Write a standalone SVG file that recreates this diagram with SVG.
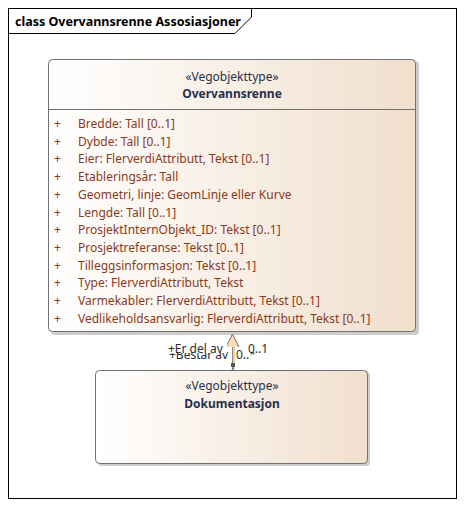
<svg xmlns="http://www.w3.org/2000/svg" width="465" height="508" viewBox="0 0 465 508">
<defs>
<linearGradient id="g" x1="0" y1="0" x2="1" y2="0">
<stop offset="0" stop-color="#FFFFFF"/>
<stop offset="1" stop-color="#F1DFCD"/>
</linearGradient>
<style>
text{font-family:"Noto Sans","Open Sans","Liberation Sans",sans-serif;font-size:12px}
.st{fill:#27304a;text-anchor:middle}
.nm{fill:#27304a;text-anchor:middle;font-weight:bold}
.at{fill:#8a3a1c}
.box{fill:url(#g);stroke:#707070;stroke-width:1}
.sh{fill:#9a9a9a;opacity:0.5}
.lbl{fill:#2b2b2b}
</style>
</defs>
<rect width="465" height="508" fill="#FFFFFF"/>
<g id="frame">
<rect x="8.5" y="8.5" width="448" height="490" fill="none" stroke="#000" stroke-width="1"/>
<path d="M8.5 33.5 H235 L251.5 17 V8.5" fill="none" stroke="#000" stroke-width="1"/>
<text x="15" y="26" style="font-size:12.5px;font-weight:bold" fill="#000">class Overvannsrenne Assosiasjoner</text>
</g>
<g id="connectors">
<line x1="232.5" y1="347" x2="232.5" y2="365" stroke="#8a8a8a" stroke-width="1"/>
<line x1="234" y1="347" x2="234" y2="363" stroke="#F3CBA0" stroke-width="2"/>
<path d="M232.5 334 L226 347 L239 347 Z" fill="#FBDBB8" stroke="none"/>
<path d="M226 347 L232.5 334 L239 347" fill="none" stroke="#707070" stroke-width="1"/>
<rect x="231" y="363" width="4" height="4" fill="#555"/>
<path d="M228 381 L233 367 L238 381" fill="none" stroke="#707070" stroke-width="1"/>
<text class="lbl" x="169" y="359">+Består av</text>
<text class="lbl" x="236" y="359">0..*</text>
<rect x="166" y="340" width="61" height="13" fill="#FFFFFF"/>
<rect x="246" y="338" width="26" height="14" fill="#FFFFFF"/>
<text class="lbl" x="168" y="353">+Er del av</text>
<text class="lbl" x="248" y="353">0..1</text>
</g>
<g id="Overvannsrenne">
<rect class="sh" x="51" y="61" width="368" height="274" rx="4"/>
<rect class="box" x="48.5" y="59.5" width="367" height="272" rx="4"/>
<line x1="48.5" y1="109.5" x2="415.5" y2="109.5" stroke="#707070"/>
<text class="st" x="232" y="81">«Vegobjekttype»</text>
<text class="nm" x="232" y="98">Overvannsrenne</text>
<g class="at">
<text x="54" y="128">+</text><text x="78" y="128">Bredde: Tall [0..1]</text>
<text x="54" y="145.7">+</text><text x="78" y="145.7">Dybde: Tall [0..1]</text>
<text x="54" y="163.4">+</text><text x="78" y="163.4">Eier: FlerverdiAttributt, Tekst [0..1]</text>
<text x="54" y="181.1">+</text><text x="78" y="181.1">Etableringsår: Tall</text>
<text x="54" y="198.8">+</text><text x="78" y="198.8">Geometri, linje: GeomLinje eller Kurve</text>
<text x="54" y="216.5">+</text><text x="78" y="216.5">Lengde: Tall [0..1]</text>
<text x="54" y="234.2">+</text><text x="78" y="234.2">ProsjektInternObjekt_ID: Tekst [0..1]</text>
<text x="54" y="251.9">+</text><text x="78" y="251.9">Prosjektreferanse: Tekst [0..1]</text>
<text x="54" y="269.6">+</text><text x="78" y="269.6">Tilleggsinformasjon: Tekst [0..1]</text>
<text x="54" y="287.3">+</text><text x="78" y="287.3">Type: FlerverdiAttributt, Tekst</text>
<text x="54" y="305">+</text><text x="78" y="305">Varmekabler: FlerverdiAttributt, Tekst [0..1]</text>
<text x="54" y="322.7">+</text><text x="78" y="322.7">Vedlikeholdsansvarlig: FlerverdiAttributt, Tekst [0..1]</text>
</g>
</g>
<g id="Dokumentasjon">
<rect class="sh" x="98" y="372" width="272" height="94" rx="4"/>
<rect class="box" x="95.5" y="370.5" width="272" height="93" rx="4"/>
<text class="st" x="232" y="390">«Vegobjekttype»</text>
<text class="nm" x="232" y="408">Dokumentasjon</text>
</g>
</svg>
